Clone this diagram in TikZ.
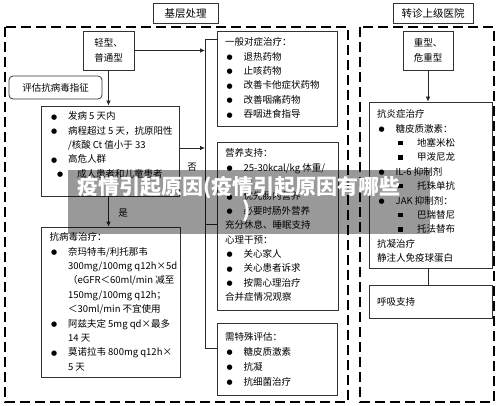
\documentclass[tikz,border=0pt]{standalone}
\usepackage{fontspec}
\setmainfont{Noto Sans CJK SC}
\newfontfamily\dejavu{DejaVu Sans}
\usetikzlibrary{arrows.meta}
\newcommand{\mybul}{\makebox[18.5pt][l]{\hspace{1.5pt}\raisebox{0.6pt}{\dejavu\fontsize{7}{7}\selectfont ●}}}
\newcommand{\mysubbul}{\hspace*{6pt}\makebox[21.5pt][l]{\hspace{1.5pt}\raisebox{0.6pt}{\dejavu\fontsize{7}{7}\selectfont ●}}}
\newcommand{\mysq}{\hspace*{21pt}\makebox[19pt][l]{\raisebox{1.3pt}{\rule{4.5pt}{4.5pt}}}}
\newcommand{\myind}{\hspace*{18.5pt}}
\newcommand{\fst}{\rule{0pt}{8.5pt}}
\begin{document}
\begin{tikzpicture}[x=1pt,y=-1pt,
  box/.style={draw=black!80, line width=0.75pt, inner sep=0pt},
  txt/.style={anchor=north west, inner sep=0pt, align=left, font=\fontsize{9.5}{14.4}\selectfont},
  dashframe/.style={draw=black, line width=1.8pt, dash pattern=on 10pt off 5pt},
  arr/.style={draw=black!85, line width=0.75pt, -{Latex[length=5pt,width=4.5pt]}},
  ln/.style={draw=black!85, line width=0.75pt},
  lbl/.style={inner sep=0pt, font=\fontsize{9.5}{12}\selectfont},
]
\useasboundingbox (0,0) rectangle (500,406);
\fill[white] (0,0) rectangle (500,406);

% titles
\node[box, minimum width=65pt, minimum height=20pt, font=\fontsize{10.5}{12}\selectfont] (t1) at (185.5,13.5) {基层处理};
\node[box, minimum width=80pt, minimum height=20pt, font=\fontsize{10.5}{12}\selectfont] (t2) at (433,13.5) {转诊上级医院};

% dashed frames
\draw[dashframe] (5,27) rectangle (348,402);
\draw[dashframe] (360,27) rectangle (494,402);

% left column
\node[box, minimum width=51pt, minimum height=39pt, align=center, font=\fontsize{9.5}{15}\selectfont] (light) at (108.5,50.5) {轻型、\\普通型};
\node[box, rounded corners=4pt, minimum width=93pt, minimum height=23pt, font=\fontsize{9.5}{12}\selectfont] (eval) at (55.5,87.5) {评估抗病毒指征};

\node[box, minimum width=138pt, minimum height=90pt] (crit) at (110,151) {};
\node[txt] (critt) at (49.4,111) {\fst\mybul 发病 5 天内\\
\mybul 病程超过 5 天，抗原阳性\\
\myind /核酸 Ct 值小于 33\\
\mybul 高危人群\\
\mysubbul 成人患者和儿童患者};

\node[box, minimum width=139pt, minimum height=150pt] (av) at (110.5,302) {};
\node[txt] (avt) at (49.4,232) {\fst 抗病毒治疗：\\
\mybul 奈玛特韦/利托那韦\\
\myind 300mg/100mg q12h×5d\\
\myind （eGFR＜60ml/min 减至\\
\myind 150mg/100mg q12h；\\
\myind ＜30ml/min 不宜使用\\
\mybul 阿兹夫定 5mg qd×最多\\
\myind 14 天\\
\mybul 莫诺拉韦 800mg q12h×\\
\myind 5 天};

% middle column
\node[box, minimum width=120pt, minimum height=95pt] (gen) at (277,78.5) {};
\node[txt] (gent) at (225,37) {\fst 一般对症治疗：\\
\mybul 退热药物\\
\mybul 止咳药物\\
\mybul 改善卡他症状药物\\
\mybul 改善咽痛药物\\
\mybul 吞咽进食指导};

\node[box, minimum width=121pt, minimum height=168pt] (nut) at (277.5,226) {};
\node[txt] (nutt) at (225,148) {\fst 营养支持：\\
\mybul 25-30kcal/kg 体重/\\
\myind 日\\
\mybul 优先肠内营养\\
\mybul 必要时肠外营养\\
充分休息、睡眠支持\\
心理干预：\\
\mybul 关心家人\\
\mybul 关心患者诉求\\
\mybul 按需心理治疗\\
合并症情况观察};

\node[box, minimum width=120pt, minimum height=72pt] (spec) at (277,359) {};
\node[txt, font=\fontsize{9.5}{14.8}\selectfont] (spect) at (225,332) {\fst 需特殊评估：\\
\mybul 糖皮质激素\\
\mybul 抗凝\\
\mybul 抗细菌治疗};

% right column
\node[box, minimum width=50pt, minimum height=39pt, align=center, font=\fontsize{9.5}{15}\selectfont] (severe) at (428,50.5) {重型、\\危重型};
\node[box, minimum width=123pt, minimum height=166pt] (anti) at (430.5,185) {};
\node[txt] (antit) at (377,109) {\fst 抗炎症治疗\\
\mybul 糖皮质激素：\\
\mysq 地塞米松\\
\mysq 甲泼尼龙\\
\mybul IL-6 抑制剂\\
\mysq 托珠单抗\\
\mybul JAK 抑制剂：\\
\mysq 巴瑞替尼\\
\mysq 托法替布\\
抗凝治疗\\
静注人免疫球蛋白};
\node[box, minimum width=123pt, minimum height=33pt] (resp) at (430.5,301.5) {};
\node[txt] (respt) at (377,297) {\fst 呼吸支持};

% connectors
\coordinate (brT) at (205,39);
\coordinate (brM) at (205,224);
\coordinate (brB) at (205,348);
\draw[ln] (brT) -- (brB);
\draw[ln] (brT) -- (brT -| gen.west);
\draw[ln] (brM) -- (brM -| nut.west);
\draw[ln] (brB) -- (brB -| spec.west);

\draw[arr] (light.east) -- (light.east -| brT);
\draw[arr] ([yshift=3pt]crit.east) -- ([yshift=3pt]crit.east -| brT);
\node[lbl] (no) at (192,167) {否};

\draw[arr] (light.south) -- (light.south |- crit.north);
\draw[arr] (light.south |- crit.south) -- (light.south |- av.north);
\node[lbl] (yes) at (123,213) {是};

\draw[arr] (severe.south) -- (severe.south |- anti.north);
\draw[ln] (severe.south |- anti.south) -- (severe.south |- resp.north);

% watermark
\node[inner sep=0pt, minimum width=362pt, minimum height=64pt, fill=black, fill opacity=0.4] (wm) at (249,202) {};
\node[inner sep=0pt, anchor=west, text=white, font=\fontsize{21}{23}\selectfont\bfseries] (wm1) at (77,188) {疫情引起原因(疫情引起原因有哪些};
\node[inner sep=0pt, text=white, font=\fontsize{21}{23}\selectfont\bfseries] (wm2) at (247,211) {)};
\end{tikzpicture}
\end{document}
